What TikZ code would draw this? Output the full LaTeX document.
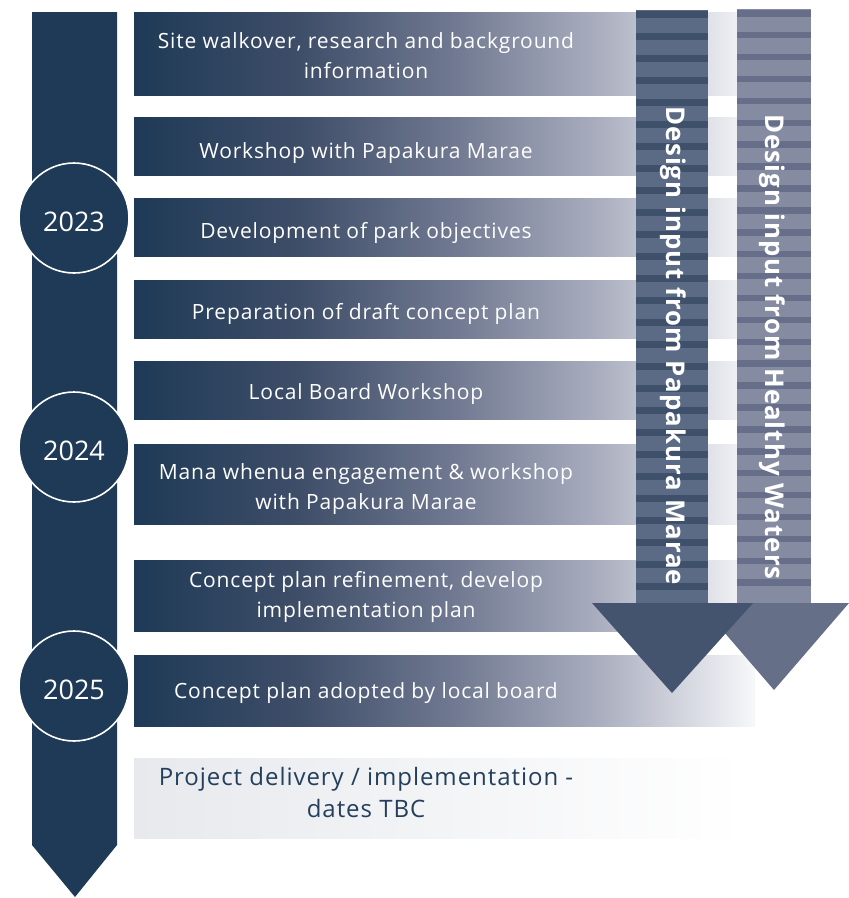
\documentclass[tikz,border=0pt]{standalone}
\usepackage{fontspec}
\setmainfont{Open Sans}
\newfontfamily\barfont[LetterSpace=4]{Open Sans}
\newfontfamily\botfont[LetterSpace=4]{Open Sans}
\newfontfamily\vfont[LetterSpace=4]{Open Sans Bold}
\definecolor{navy}{HTML}{1E3A56}
\definecolor{gA}{HTML}{3F4E69}
\definecolor{gB}{HTML}{6F7890}
\definecolor{gC}{HTML}{AAAEBF}
\definecolor{gD}{HTML}{F8F8FA}
\definecolor{aOneLight}{HTML}{5B6B85}
\definecolor{aOneDark}{HTML}{3F506B}
\definecolor{aOneHead}{HTML}{44536E}
\definecolor{aTwoLight}{HTML}{858CA2}
\definecolor{aTwoDark}{HTML}{666E89}
\definecolor{aTwoHead}{HTML}{666F88}
\definecolor{botgray}{HTML}{E7E9ED}
\definecolor{bottext}{HTML}{233F5C}
\pgfdeclarehorizontalshading{barshade}{100bp}{color(0bp)=(navy); color(25bp)=(navy); color(38.5bp)=(gA); color(50.5bp)=(gB); color(62.5bp)=(gC); color(75bp)=(gD); color(100bp)=(gD)}
\tikzset{
  barbox/.style={rectangle, inner sep=0pt, minimum width=621pt, shading=barshade},
  bartext/.style={text=white, align=center, font=\barfont\fontsize{21}{30}\selectfont},
  yearcircle/.style={circle, fill=navy, draw=white, line width=1.6pt, minimum size=110pt, inner sep=0pt},
  yeartext/.style={text=white, inner sep=0pt, font=\fontsize{27}{30}\selectfont},
  vtext/.style={rotate=-90, text=white, font=\vfont\fontsize{25.8}{30}\selectfont}
}
\begin{document}
\begin{tikzpicture}[x=1pt,y=-1pt]
\useasboundingbox (0,0) rectangle (849,898);
\fill[white] (0,0) rectangle (849,898);
% spine
\fill[navy] (32,12) -- (117,12) -- (117,845) -- (75,897) -- (32,845) -- cycle;
% bars
\node[barbox, minimum height=83pt] (b1) at (444.5,53.5) {};
\node[barbox, minimum height=58pt] (b2) at (444.5,146) {};
\node[barbox, minimum height=58pt] (b3) at (444.5,227) {};
\node[barbox, minimum height=58pt] (b4) at (444.5,309) {};
\node[barbox, minimum height=58pt] (b5) at (444.5,390) {};
\node[barbox, minimum height=80pt] (b6) at (444.5,484) {};
\node[barbox, minimum height=71pt] (b7) at (444.5,595.5) {};
\node[barbox, minimum height=71pt] (b8) at (444.5,690.5) {};
\node[rectangle, inner sep=0pt, minimum width=609pt, minimum height=80pt, left color=botgray, right color=white] (b9) at (438.5,798) {};
% bar texts
\node[bartext] (t1) at (366,56) {Site walkover, research and background\\information};
\node[bartext] (t2) at (366,153) {Workshop with Papakura Marae};
\node[bartext] (t3) at (366,233) {Development of park objectives};
\node[bartext] (t4) at (366,314) {Preparation of draft concept plan};
\node[bartext] (t5) at (366,394) {Local Board Workshop};
\node[bartext] (t6) at (366,489) {Mana whenua engagement \& workshop\\with Papakura Marae};
\node[bartext] (t7) at (366,597) {Concept plan refinement, develop\\implementation plan};
\node[bartext] (t8) at (366,693) {Concept plan adopted by local board};
\node[text=bottext, align=center, font=\botfont\fontsize{24}{32}\selectfont] (t9) at (366,792) {Project delivery / implementation -\\dates TBC};
% arrow 2 (Healthy Waters)
\fill[aTwoLight] (737,9) rectangle (811,603);
\foreach \k in {0,...,26} \fill[aTwoDark] (737,10+21.9*\k) rectangle (811,16.5+21.9*\k);
\fill[aTwoHead] (699,603) -- (849,603) -- (774,690) -- cycle;
\node[vtext] (v2) at (772,347) {Design input from Healthy Waters};
% arrow 1 (Papakura Marae)
\fill[aOneLight] (636,10) rectangle (708,603);
\foreach \k in {0,...,26} \fill[aOneDark] (636,11+22*\k) rectangle (708,18+22*\k);
\fill[aOneHead] (592,603) -- (753,603) -- (672,693) -- cycle;
\node[vtext] (v1) at (673,346) {Design input from Papakura Marae};
% years
\node[yearcircle] (y1) at (74,218) {};
\node[yearcircle] (y2) at (74,447) {};
\node[yearcircle] (y3) at (74,686) {};
\node[yeartext] (y1t) at ([yshift=-4pt]y1.center) {2023};
\node[yeartext] (y2t) at ([yshift=-4pt]y2.center) {2024};
\node[yeartext] (y3t) at ([yshift=-4pt]y3.center) {2025};
\end{tikzpicture}
\end{document}
